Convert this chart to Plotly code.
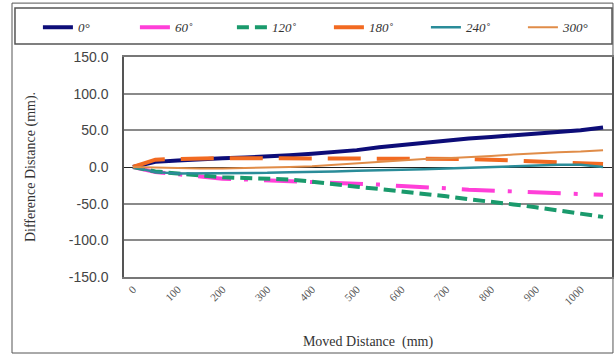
import plotly.graph_objects as go

x_mm = [0, 50, 100, 150, 200, 250, 300, 350, 400, 450, 500, 550, 600, 650, 700, 750, 800, 850, 900, 950, 1000, 1050]

deg0 = [0, 7, 9, 11, 12, 13, 14, 16, 18, 20, 23, 27, 30, 33, 37, 39, 41, 43, 45, 48, 50, 54]
deg60 = [0, -7, -10, -13, -16, -17, -18, -19, -20, -22, -23, -24, -26, -27, -29, -31, -32, -34, -35, -36, -37, -38]
deg120 = [0, -6, -9, -12, -14, -15, -16, -17, -20, -24, -27, -30, -33, -36, -40, -44, -47, -51, -55, -59, -63, -68]
deg180 = [0, 10, 11, 12, 12, 12, 12, 12, 12, 12, 12, 12, 12, 12, 11, 11, 10, 9, 8, 7, 5, 4]
deg240 = [0, -7, -9, -9, -9, -8, -8, -7, -7, -6, -5, -4, -4, -3, -2, -1, 0, 1, 2, 3, 3, 0]
deg300 = [0, -1, -2, -2, -2, -1, -1, 0, 1, 3, 5, 7, 9, 11, 12, 13, 15, 17, 19, 20, 21, 23]

series_names = ["0°", "60˚", "120˚", "180˚", "240˚", "300°"]
series_vals = [deg0, deg60, deg120, deg180, deg240, deg300]
series_colors = ["#0d0d78", "#ff3fd8", "#1a9a6c", "#f26a21", "#2a8c99", "#e08c48"]
series_widths = [4, 4, 4, 4, 2.5, 2]
series_dash = ["solid", "33px,13px,4px,16px", "12px,6px", "33px,16px", "solid", "solid"]

x_ticks = [0, 100, 200, 300, 400, 500, 600, 700, 800, 900, 1000]
y_ticks = [-150, -100, -50, 0, 50, 100, 150]

fig = go.Figure()
for name, vals, col, w, d in zip(series_names, series_vals, series_colors, series_widths, series_dash):
    fig.add_trace(go.Scatter(x=x_mm, y=vals, mode="lines", name=name,
                             line=dict(color=col, width=w, dash=d)))

fig.update_layout(
    width=614, height=356,
    margin=dict(l=124, r=2, t=57, b=79, autoexpand=False),
    paper_bgcolor="white", plot_bgcolor="white",
    showlegend=True,
    legend=dict(orientation="h", x=-0.2234 + 0.047, y=1.2227 - 0.02, xanchor="left", yanchor="top",
                entrywidth=52, entrywidthmode="pixels",
                font=dict(family="Liberation Serif", size=13, color="#333333", style="italic"),
                bgcolor="rgba(0,0,0,0)", borderwidth=0),
    xaxis=dict(range=[-20, 1070], tickmode="array", tickvals=x_ticks,
               ticktext=[str(v) for v in x_ticks], tickangle=-45,
               tickfont=dict(family="Liberation Serif", size=11, color="#555555"),
               showgrid=False, zeroline=False, showline=True, linecolor="#777777",
               linewidth=1.5, mirror=True, ticks="",
               title=dict(text="Moved Distance  (mm)", standoff=30,
                          font=dict(family="Liberation Serif", size=14, color="#333333"))),
    yaxis=dict(range=[-150, 150], tickmode="array", tickvals=y_ticks,
               ticktext=[f"{v:.1f}" for v in y_ticks],
               ticklabelstandoff=11,
               tickfont=dict(family="Liberation Sans", size=14, color="#444444"),
               showgrid=True, gridcolor="#8a8a8a", gridwidth=1.5,
               zeroline=True, zerolinecolor="#222222", zerolinewidth=1,
               showline=True, linecolor="#555555", linewidth=1.5, mirror=True,
               ticks="", ticklen=0,
               title=dict(text="Difference Distance (mm).", standoff=30,
                          font=dict(family="Liberation Serif", size=14, color="#333333"))),
    shapes=[
        dict(type="rect", xref="paper", yref="paper", x0=-0.2295, x1=1.002, y0=-0.3455, y1=1.245,
             line=dict(color="#555555", width=1), layer="below"),
        dict(type="rect", xref="paper", yref="paper", x0=-0.2234, x1=1.0, y0=1.059, y1=1.2227,
             line=dict(color="#555555", width=1.5), layer="below"),
    ],
)

fig.write_html("out.html", config={"displayModeBar": False},
               post_script="document.body.style.margin='0px';document.body.style.overflow='hidden';")
